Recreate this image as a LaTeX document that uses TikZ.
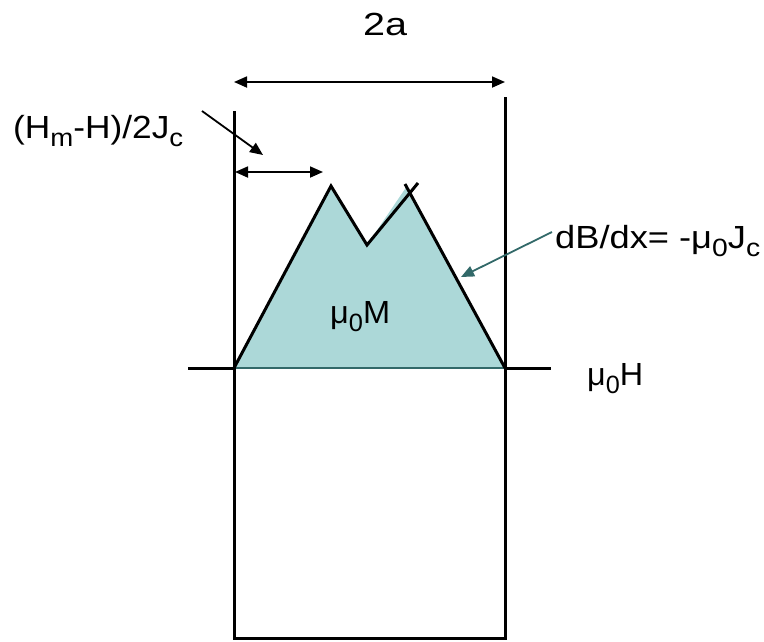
\documentclass[tikz,border=0pt]{standalone}
\usepackage{fontspec}
\usepackage{graphicx}
\setmainfont{Liberation Sans}
\usetikzlibrary{arrows.meta}
\definecolor{fillteal}{RGB}{172,216,216}
\definecolor{darkteal}{RGB}{50,105,105}
\newcommand{\sbs}[1]{\raisebox{-0.28em}{\fontsize{25}{26}\selectfont #1}}
\newcommand{\fitw}[2]{\resizebox{#1pt}{\height}{#2}}
\tikzset{
  thick line/.style={line width=3pt, black},
  dim arrow/.style={line width=1.8pt, {Triangle[length=13pt,width=11pt]}-{Triangle[length=13pt,width=11pt]}},
  ptr arrow/.style={line width=1.8pt, -{Triangle[length=13pt,width=11pt]}},
  lbl/.style={font=\fontsize{32}{36}\selectfont, inner sep=0pt, anchor=base west},
}
\begin{document}
\begin{tikzpicture}[x=1pt,y=-1pt]
\useasboundingbox (0,0) rectangle (764,641);
% coordinates
\coordinate (BL) at (234,368);
\coordinate (BR) at (505,368);
\coordinate (P1) at (331,186);
\coordinate (V) at (367,245);
\coordinate (P2) at (418,183);
\coordinate (Q2) at (405,184);
% axis
\coordinate (axL) at (188,368);
\coordinate (axR) at (551,368);
\draw[thick line] (axL) -- (BL);
\draw[thick line] (BR) -- (axR);
% filled region
\fill[fillteal] (BL) -- (P1) -- (V) -- (407,186) -- (BR) -- cycle;
\draw[darkteal, line width=1.2pt] (BL) -- (BR);
% profile lines
\draw[thick line, line join=miter] (BL) -- (P1) -- (V) -- (P2);
\draw[thick line] (Q2) -- (BR);
% box
\coordinate (LT) at (234,111);
\coordinate (RT) at (505,97);
\coordinate (LB) at (234,638);
\coordinate (RB) at (505,638);
\draw[thick line] (LT) -- (LB) -- (RB) -- (RT);
% 2a arrow
\coordinate (a1) at (234,82);
\coordinate (a2) at (505,82);
\draw[dim arrow] (a1) -- (a2);
\node[lbl] (twoa) at (363,35) {\fitw{44}{2a}};
% small arrow
\coordinate (s1) at (235,172);
\coordinate (s2) at (323,172);
\draw[dim arrow] (s1) -- (s2);
\node[lbl] (hm) at (13,138) {\fitw{170}{(H\sbs{m}-H)/2J\sbs{c}}};
\coordinate (p0) at (202,111);
\coordinate (p1) at (263,155);
\draw[ptr arrow] (p0) -- (p1);
% dB/dx
\node[lbl] (dbdx) at (555,248) {\fitw{205}{dB/dx= -μ\sbs{0}J\sbs{c}}};
\coordinate (d0) at (552,232);
\coordinate (d1) at (461,277);
\draw[ptr arrow, darkteal] (d0) -- (d1);
% labels
\node[lbl] (mum) at (330,323) {\fitw{60}{μ\sbs{0}M}};
\node[lbl] (muh) at (587,385) {\fitw{56}{μ\sbs{0}H}};
\end{tikzpicture}
\end{document}
